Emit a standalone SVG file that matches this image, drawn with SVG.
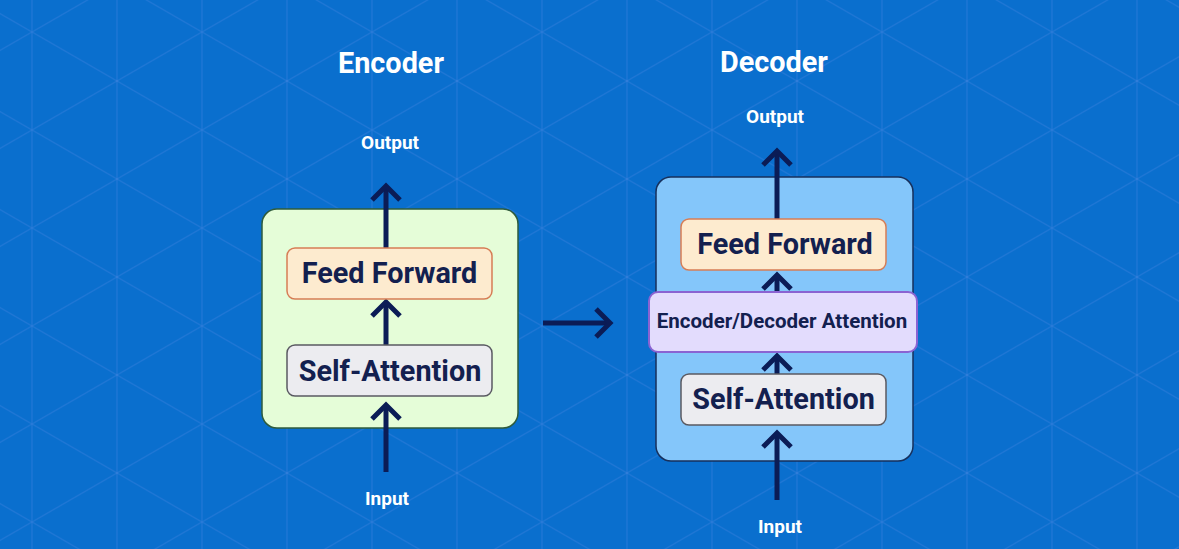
<svg xmlns="http://www.w3.org/2000/svg" width="1179" height="549" viewBox="0 0 1179 549">
  <defs>
    <pattern id="lattice" patternUnits="userSpaceOnUse" x="32" y="32" width="170" height="98">
      <g stroke="#5a8ce6" stroke-opacity="0.25" stroke-width="1.4" fill="none">
        <line x1="0" y1="-5" x2="0" y2="103"/>
        <line x1="85" y1="-5" x2="85" y2="103"/>
        <line x1="170" y1="-5" x2="170" y2="103"/>
        <line x1="-17" y1="-9.8" x2="187" y2="107.8"/>
        <line x1="-17" y1="107.8" x2="187" y2="-9.8"/>
      </g>
    </pattern>
    <marker id="chev" markerUnits="userSpaceOnUse" markerWidth="40" markerHeight="40" viewBox="-20 -20 40 40" refX="0" refY="0" orient="auto" overflow="visible">
      <path d="M-14,-14 L0,0 L-14,14" fill="none" stroke="#0b1c56" stroke-width="5" stroke-linejoin="miter"/>
    </marker>
    <style>
      .title { font-family: Roboto, "Liberation Sans", sans-serif; font-weight: 700; font-size: 28.8px; fill: #ffffff; text-anchor: middle; }
      .io { font-family: Roboto, "Liberation Sans", sans-serif; font-weight: 700; font-size: 19px; fill: #ffffff; text-anchor: middle; }
      .lbl { font-family: Roboto, "Liberation Sans", sans-serif; font-weight: 700; font-size: 28.8px; fill: #13204f; text-anchor: middle; }
      .lbl-sm { font-family: Roboto, "Liberation Sans", sans-serif; font-weight: 700; font-size: 20.5px; fill: #13204f; text-anchor: middle; }
      .enc-box { fill: #e5fdd8; stroke: #2f5c3c; stroke-width: 1.5; }
      .dec-box { fill: #84c6fa; stroke: #17305c; stroke-width: 1.5; }
      .ff { fill: #fdebcf; stroke: #d67d55; stroke-width: 1.5; }
      .sa { fill: #ececf0; stroke: #5a5a62; stroke-width: 1.5; }
      .eda { fill: #e3dcfd; stroke: #8a63d2; stroke-width: 2; }
      .conn { stroke: #0b1c56; stroke-width: 5; fill: none; marker-end: url(#chev); }
    </style>
  </defs>

  <rect x="0" y="0" width="1179" height="549" fill="#0a6fce"/>
  <rect x="0" y="0" width="1179" height="549" fill="url(#lattice)"/>

  <g id="titles">
    <text class="title" x="391" y="73">Encoder</text>
    <text class="title" x="774" y="72">Decoder</text>
  </g>

  <g id="encoder-labels">
    <text class="io" x="390" y="149">Output</text>
    <text class="io" x="387" y="505">Input</text>
  </g>
  <g id="decoder-labels">
    <text class="io" x="775" y="123">Output</text>
    <text class="io" x="780" y="533">Input</text>
  </g>

  <g id="encoder">
    <rect class="enc-box" x="262" y="209" width="256" height="219" rx="15"/>
  </g>
  <g id="decoder">
    <rect class="dec-box" x="656" y="177" width="257" height="284" rx="15"/>
  </g>

  <g id="connectors">
    <line class="conn" x1="386" y1="248" x2="386" y2="186"/>
    <line class="conn" x1="386" y1="345" x2="386" y2="302"/>
    <line class="conn" x1="386" y1="472" x2="386" y2="405"/>
    <line class="conn" x1="543" y1="323" x2="610" y2="323"/>
    <line class="conn" x1="777" y1="219" x2="777" y2="151"/>
    <line class="conn" x1="777" y1="292" x2="777" y2="275"/>
    <line class="conn" x1="777" y1="374" x2="777" y2="356"/>
    <line class="conn" x1="777" y1="500" x2="777" y2="433"/>
  </g>

  <g id="enc-feed-forward">
    <rect class="ff" x="287" y="248" width="205" height="51" rx="8"/>
    <text class="lbl" x="389.5" y="283">Feed Forward</text>
  </g>
  <g id="enc-self-attention">
    <rect class="sa" x="287" y="345" width="205" height="51" rx="8"/>
    <text class="lbl" x="390" y="381">Self-Attention</text>
  </g>

  <g id="dec-feed-forward">
    <rect class="ff" x="681" y="219" width="205" height="51" rx="8"/>
    <text class="lbl" x="785" y="254">Feed Forward</text>
  </g>
  <g id="dec-enc-dec-attention">
    <rect class="eda" x="649" y="292" width="268" height="60" rx="9"/>
    <text class="lbl-sm" x="782" y="328">Encoder/Decoder Attention</text>
  </g>
  <g id="dec-self-attention">
    <rect class="sa" x="681" y="374" width="205" height="51" rx="8"/>
    <text class="lbl" x="783.5" y="409">Self-Attention</text>
  </g>
</svg>
